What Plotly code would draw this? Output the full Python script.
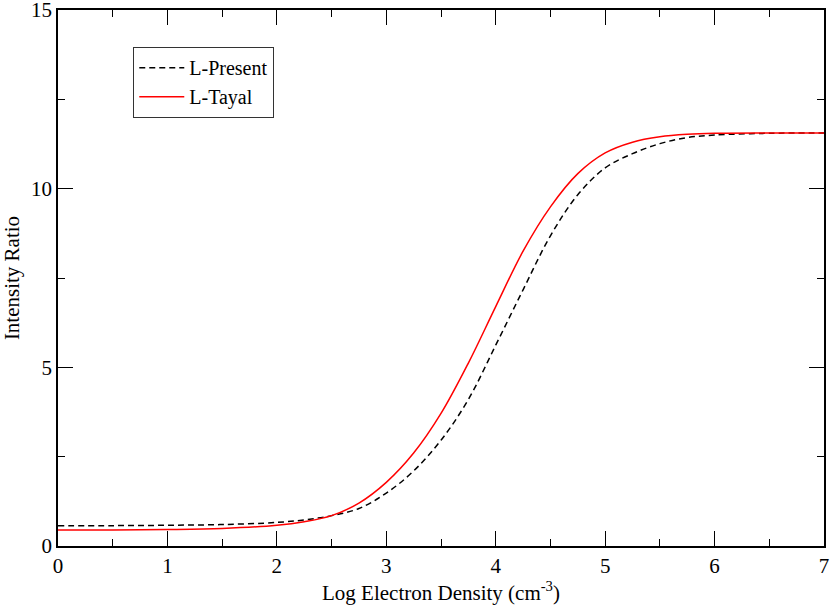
import plotly.graph_objects as go

# Log electron density (cm^-3)
log_ne = [0.0, 0.5, 1.0, 1.5, 2.0, 2.25, 2.5, 2.75, 3.0, 3.25, 3.5, 3.75,
          4.0, 4.25, 4.5, 4.75, 5.0, 5.25, 5.5, 5.75, 6.0, 6.5, 7.0]

# Intensity ratio, present calculation
ratio_present = [0.57, 0.57, 0.58, 0.60, 0.66, 0.73, 0.85, 1.05, 1.48, 2.10, 2.96, 4.10,
                 5.62, 7.17, 8.68, 9.83, 10.58, 10.98, 11.26, 11.43, 11.50, 11.55, 11.56]

# Intensity ratio, Tayal
ratio_tayal = [0.45, 0.45, 0.46, 0.49, 0.58, 0.68, 0.85, 1.20, 1.78, 2.60, 3.71, 5.12,
               6.70, 8.25, 9.49, 10.42, 11.00, 11.30, 11.45, 11.52, 11.55, 11.56, 11.56]

font_family = "Times New Roman, Liberation Serif, serif"

fig = go.Figure()
fig.add_trace(go.Scatter(x=log_ne, y=ratio_present, mode='lines', name='L-Present',
                         line=dict(color='black', width=1.5, dash='6px,4px', shape='spline')))
fig.add_trace(go.Scatter(x=log_ne, y=ratio_tayal, mode='lines', name='L-Tayal',
                         line=dict(color='red', width=1.5, shape='spline')))

axis_common = dict(
    showline=True, linecolor='black', linewidth=1.5, mirror='ticks',
    ticks='inside', ticklen=15, tickwidth=1.2, tickcolor='black',
    showgrid=False, zeroline=False, automargin=False,
    ticklabeloverflow='allow',
    tickfont=dict(family=font_family, size=21, color='black'),
)

fig.update_xaxes(range=[0, 7], dtick=1,
                 minor=dict(dtick=0.5, ticks='inside', ticklen=7, tickcolor='black', tickwidth=1.2),
                 title=dict(text='Log Electron Density (cm<sup>-3</sup>)',
                            font=dict(family=font_family, size=21, color='black'), standoff=8),
                 **axis_common)
fig.update_yaxes(range=[0, 15], dtick=5,
                 minor=dict(dtick=2.5, ticks='inside', ticklen=7, tickcolor='black', tickwidth=1.2),
                 title=dict(text='Intensity Ratio',
                            font=dict(family=font_family, size=21, color='black'), standoff=14),
                 **axis_common)

fig.update_layout(
    width=830, height=606,
    margin=dict(l=58, r=6, t=10, b=60),
    plot_bgcolor='white', paper_bgcolor='white',
    legend=dict(x=0.098, y=0.931, xanchor='left', yanchor='top',
                bordercolor='#333333', borderwidth=1.2, bgcolor='white',
                font=dict(family=font_family, size=20, color='black'),
                tracegroupgap=0, itemwidth=45),
    showlegend=True,
)

# the page body has a default 8px margin, drop it so the figure sits at 0,0
fig.write_html("out.html", config={'displayModeBar': False},
               post_script="document.body.style.margin='0';")
